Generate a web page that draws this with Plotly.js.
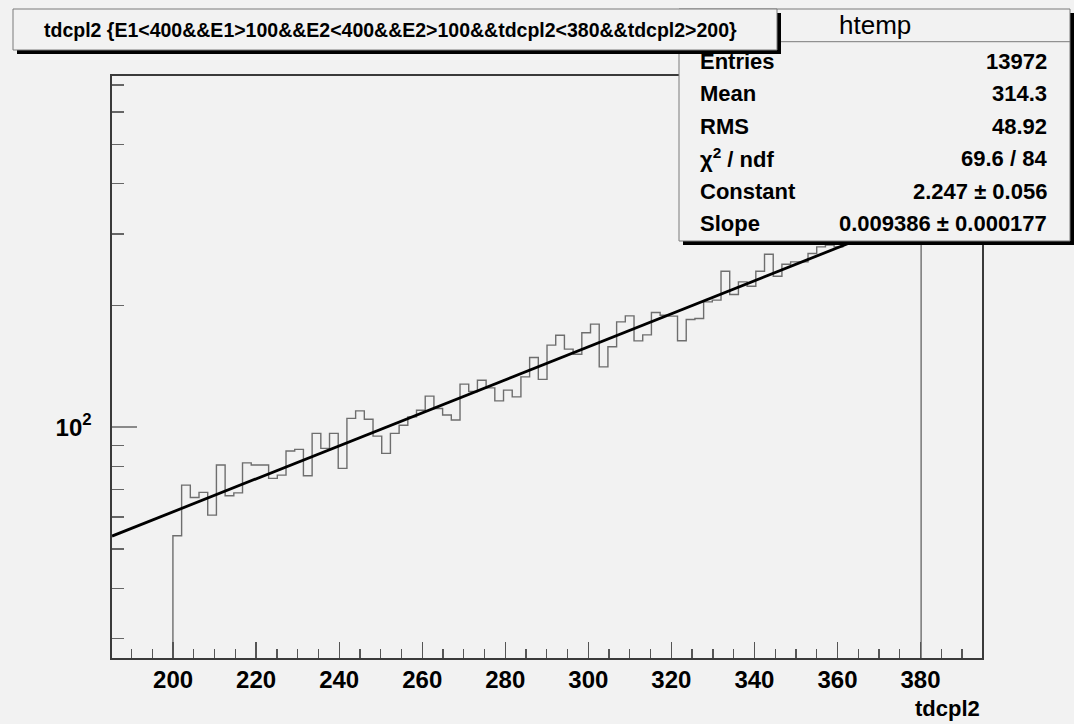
<!DOCTYPE html>
<html><head><meta charset="utf-8">
<script src="https://cdn.plot.ly/plotly-3.0.1.min.js"></script>
<style>html,body{margin:0;padding:0;background:#f2f2f2;} #chart{width:1074px;height:724px;}</style>
</head><body><div id="chart"></div>
<script>
// ---- data ----
const histName = 'htemp';
const titleText = 'tdcpl2 {E1<400&&E1>100&&E2<400&&E2>100&&tdcpl2<380&&tdcpl2>200}';
const xTitle = 'tdcpl2';
const binLow = 199.97;
const binWidth = 2.095;
const counts = [
  53.9, 71.9, 67.0, 69.0, 60.6, 80.6, 67.7, 68.8, 81.6, 80.6,
  80.6, 74.7, 76.1, 87.3, 88.1, 75.8, 96.5, 88.6, 96.5, 79.1,
  105.1, 109.7, 104.6, 95.0, 86.1, 96.5, 101.1, 106.0, 110.1, 119.3,
  111.2, 107.1, 104.1, 127.7, 122.5, 130.6, 125.0, 116.1, 123.4, 118.8,
  133.1, 148.6, 131.2, 159.4, 168.7, 155.8, 151.4, 171.0, 179.6, 140.9,
  157.9, 182.0, 188.3, 163.3, 169.0, 192.0, 189.0, 188.0, 163.5, 184.5,
  185.5, 203.9, 205.9, 242.7, 212.6, 228.5, 222.9, 242.7, 267.4, 235.9,
  252.6, 256.0, 256.0, 268.5, 278.8, 281.5, 278.8, 292.0, 298.0, 289.0,
  310.0, 315.0, 304.0, 326.0, 318.0, 333.0
];
const fitX = [185.3, 394.8];
const fitY = [53.8, 384.6];
const xRange = [185.3, 394.8];
const yMajorTicks = [100];
const yMajorText = ['10<sup>2</sup>'];
const yMinorTicks = [30, 40, 50, 60, 70, 80, 90, 200, 300, 400, 500, 600, 700];
const statLabels = ['Entries', 'Mean', 'RMS', '\u03c7<sup>2</sup> / ndf', 'Constant', 'Slope'];
const statValues = ['13972', '314.3', '48.92', '69.6 / 84', '2.247 \u00b1 0.056', '0.009386 \u00b1 0.000177'];

// ---- geometry helpers (pixels -> paper) ----
const W = 1074, H = 724;
const M = {l: 112, r: 92, t: 76, b: 66};
const PW = W - M.l - M.r, PH = H - M.t - M.b;
const px = x => (x - M.l) / PW;
const py = y => (H - M.b - y) / PH;
const esc = s => s.replace(/&/g, '&amp;').replace(/</g, '&lt;').replace(/>/g, '&gt;');
const FONT = 'Liberation Sans, Arial, Helvetica, sans-serif';

// ---- traces ----
const floorVal = 1;
const hx = [binLow], hy = [floorVal];
counts.forEach((c, i) => { hx.push(binLow + i * binWidth); hy.push(c); });
hx.push(binLow + counts.length * binWidth); hy.push(floorVal);

const traces = [
  {type: 'scatter', mode: 'lines', x: hx, y: hy, line: {shape: 'hv', color: '#6e6e6e', width: 1.4}, hoverinfo: 'skip'},
  {type: 'scatter', mode: 'lines', x: fitX, y: fitY, line: {color: '#000', width: 2.8}, hoverinfo: 'skip'}
];

// ---- boxes ----
const rect = (x0, y0, x1, y1, fill, lineColor, lw) => ({
  type: 'rect', xref: 'paper', yref: 'paper', layer: 'above',
  x0: px(x0), x1: px(x1), y0: py(y1), y1: py(y0),
  fillcolor: fill, line: {color: lineColor, width: lw}
});
const shapes = [
  rect(683, 13, 1078, 245, '#000', '#000', 0),
  rect(679, 9, 1070, 241, '#f2f2f2', '#7a7a7a', 1),
  {type: 'line', xref: 'paper', yref: 'paper', layer: 'above', x0: px(679), x1: px(1070), y0: py(41.7), y1: py(41.7), line: {color: '#7a7a7a', width: 1}},
  rect(17, 13, 781, 54, '#000', '#000', 0),
  rect(13, 9, 777, 50, '#f2f2f2', '#7a7a7a', 1)
];

const ann = [];
ann.push({xref: 'paper', yref: 'paper', x: px(42), y: py(29.5), xanchor: 'left', yanchor: 'middle', showarrow: false,
  text: esc(titleText), font: {family: FONT, size: 19.5, weight: 'bold', color: '#000'}});
ann.push({xref: 'paper', yref: 'paper', x: px(874.5), y: py(25), xanchor: 'center', yanchor: 'middle', showarrow: false,
  text: histName, font: {family: FONT, size: 26, color: '#000'}});
const rowY = [61.7, 93.3, 126.7, 158.3, 191.7, 223.3];
statLabels.forEach((s, i) => {
  ann.push({xref: 'paper', yref: 'paper', x: px(698), y: py(rowY[i]), xanchor: 'left', yanchor: 'middle', showarrow: false,
    text: s, font: {family: FONT, size: 22, weight: 'bold', color: '#000'}});
  ann.push({xref: 'paper', yref: 'paper', x: px(1049), y: py(rowY[i]), xanchor: 'right', yanchor: 'middle', showarrow: false,
    text: statValues[i], font: {family: FONT, size: 22, weight: 'bold', color: '#000'}});
});
ann.push({xref: 'paper', yref: 'paper', x: px(982), y: py(708), xanchor: 'right', yanchor: 'middle', showarrow: false,
  text: xTitle, font: {family: FONT, size: 22, weight: 'bold', color: '#000'}});

const layout = {
  width: W, height: H,
  paper_bgcolor: '#f2f2f2', plot_bgcolor: '#f2f2f2',
  margin: M, showlegend: false,
  font: {family: FONT, color: '#000'},
  xaxis: {
    range: xRange, showline: true, mirror: true, linecolor: '#3a3a3a', linewidth: 1.6,
    showgrid: false, zeroline: false,
    ticks: 'inside', ticklen: 16, tickwidth: 1.3, tickcolor: '#555',
    tickmode: 'linear', tick0: 0, dtick: 20,
    minor: {ticks: 'inside', ticklen: 9, tickwidth: 1.3, tickcolor: '#555', tick0: 0, dtick: 5, showgrid: false},
    tickfont: {family: FONT, size: 24, weight: 'bold', color: '#000'},
    ticklabelstandoff: 0
  },
  yaxis: {
    type: 'log', range: [1.4296, 2.8674],
    showline: true, mirror: true, linecolor: '#3a3a3a', linewidth: 1.6,
    showgrid: false, zeroline: false,
    ticks: 'inside', ticklen: 25, tickwidth: 1.6, tickcolor: '#8a8a8a',
    tickmode: 'array', tickvals: yMajorTicks, ticktext: yMajorText,
    minor: {ticks: 'inside', ticklen: 12, tickwidth: 1.3, tickcolor: '#666', tickmode: 'array', tickvals: yMinorTicks, showgrid: false},
    tickfont: {family: FONT, size: 24, weight: 'bold', color: '#000'},
    ticklabelstandoff: 14
  },
  shapes: shapes,
  annotations: ann
};

Plotly.newPlot('chart', traces, layout, {displayModeBar: false, staticPlot: true});
</script>
</body></html>
